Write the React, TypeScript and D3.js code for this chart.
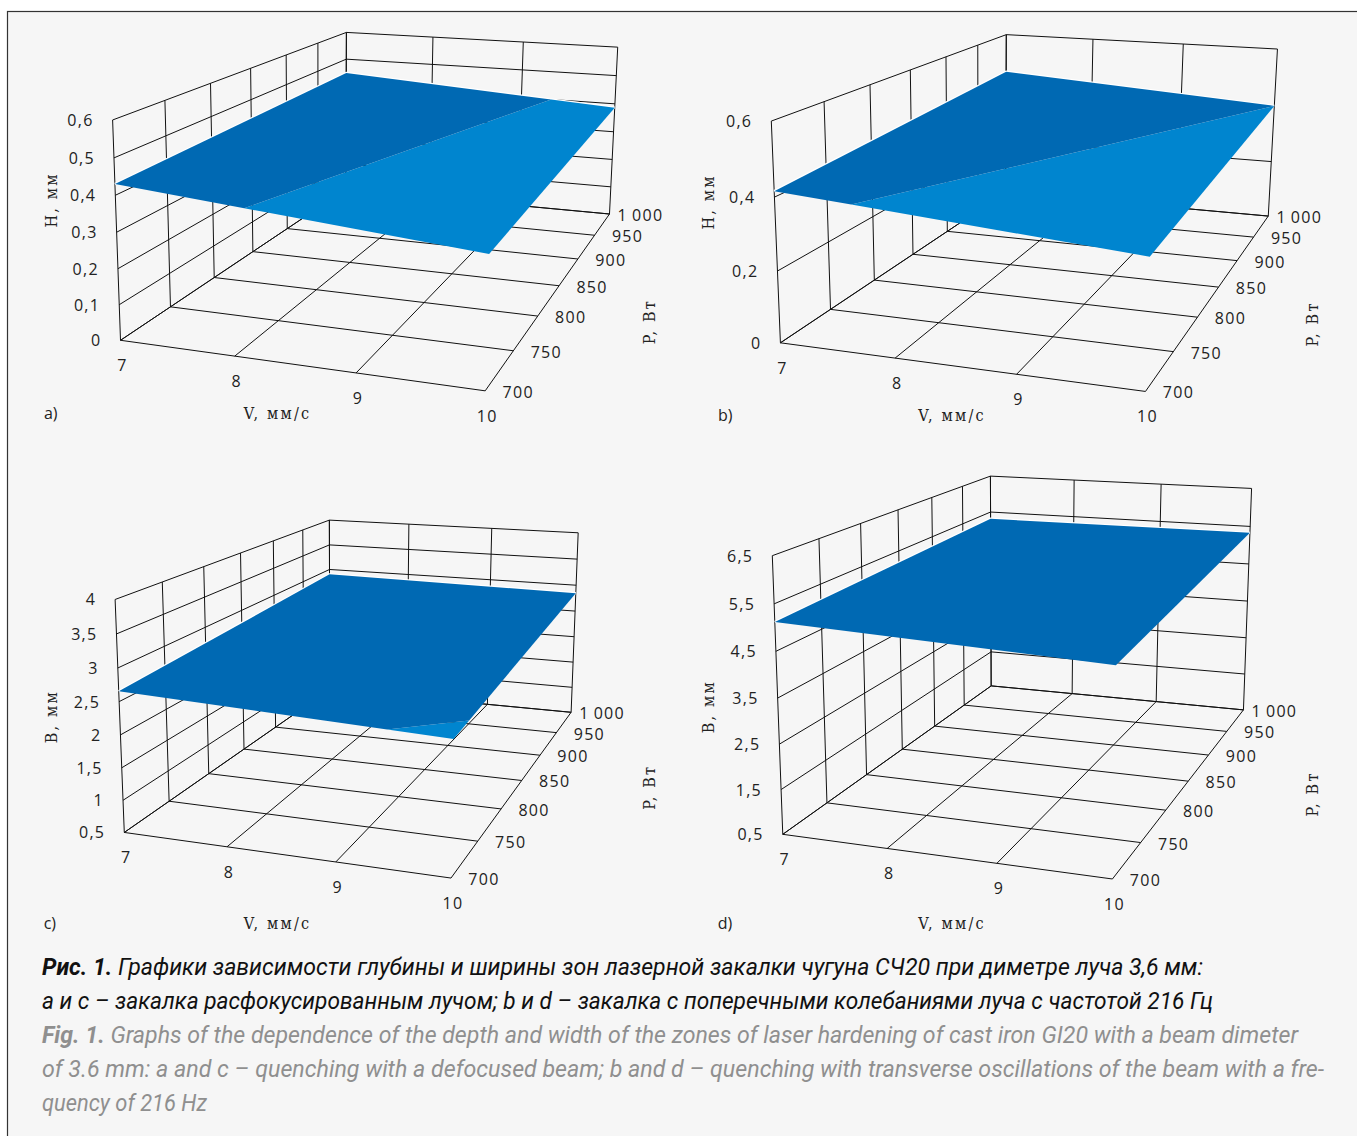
import React from 'react';
import * as d3 from 'd3';

const WIDTH = 1357;
const HEIGHT = 1136;

// values
const speedTicks = [7, 8, 9, 10];
const powerTicks = [700, 750, 800, 850, 900, 950, 1000];

const depthTicksA = [0, 0.1, 0.2, 0.3, 0.4, 0.5, 0.6];
const depthTicksB = [0, 0.2, 0.4, 0.6];
const widthTicksC = [0.5, 1, 1.5, 2, 2.5, 3, 3.5, 4];
const widthTicksD = [0.5, 1.5, 2.5, 3.5, 4.5, 5.5, 6.5];

// surface corners: [V=7, V=10] for P=700 and P=1000
const surfaceA = [[0.43, 0.348], [0.448, 0.386]];
const surfaceB = [[0.416, 0.343], [0.462, 0.4]];
const surfaceC = [[2.654, 2.465], [2.9, 2.846]];
const surfaceD = [[5.12, 4.84], [5.31, 5.33]];

const captionRu = [
  ['Рис. 1. ', 'Графики зависимости глубины и ширины зон лазерной закалки чугуна СЧ20 при диметре луча 3,6 мм:'],
  ['', 'a и c – закалка расфокусированным лучом; b и d – закалка с поперечными колебаниями луча с частотой 216 Гц'],
];
const captionEn = [
  ['Fig. 1. ', 'Graphs of the dependence of the depth and width of the zones of laser hardening of cast iron GI20 with a beam dimeter'],
  ['', 'of 3.6 mm: a and c – quenching with a defocused beam; b and d – quenching with transverse oscillations of the beam with a fre-'],
  ['', 'quency of 216 Hz'],
];

const DARK = '#0069b3';
const LIGHT = '#0085cf';
const LINE = '#111';
const TICK_FONT = '"Open Sans", sans-serif';
const TITLE_FONT = '"DejaVu Serif Condensed", "DejaVu Serif", serif';
const CAPTION_FONT = '"Roboto", sans-serif';

// where the corners of each 3D box land on the page
const panels = [
  {
    name: 'a)', zLabel: 'H, мм', zTicks: depthTicksA, surface: surfaceA, level: 0.4,
    corners: { O: [120.6, 341.7], A: [484.9, 390], B: [346, 188], F: [609.4, 215], C: [112.8, 119.3], H: [346, 33.3], T: [618, 46.7] },
    nameAt: [50.7, 413], vAt: [277.5, 413.3], zAt: [51.2, 200], pAt: [649, 321.7],
  },
  {
    name: 'b)', zLabel: 'H, мм', zTicks: depthTicksB, surface: surfaceB, level: 0.4,
    corners: { O: [780.2, 343.3], A: [1145.5, 391], B: [1006, 191.7], F: [1268.1, 216.7], C: [771.5, 121], H: [1006, 35], T: [1277.6, 48.7] },
    nameAt: [725.3, 415], vAt: [952, 415], zAt: [708, 202], pAt: [1312.6, 324],
  },
  {
    name: 'c)', zLabel: 'B, мм', zTicks: widthTicksC, surface: surfaceC, level: 2.5,
    corners: { O: [124.5, 833.3], A: [451, 877.3], B: [329.6, 688.3], F: [571.2, 713.3], C: [114.9, 599.3], H: [329.6, 520.7], T: [578.1, 532.3] },
    nameAt: [49.9, 923], vAt: [277.5, 923.3], zAt: [51.2, 716.7], pAt: [649.2, 787.3],
  },
  {
    name: 'd)', zLabel: 'B, мм', zTicks: widthTicksD, surface: surfaceD, level: 4.5,
    corners: { O: [782.8, 834], A: [1112.7, 879], B: [990.9, 686], F: [1243.5, 710], C: [772, 556], H: [990.9, 476], T: [1251.3, 488.3] },
    nameAt: [725, 923], vAt: [952, 923.3], zAt: [708, 706.7], pAt: [1312.6, 794],
  },
];

type Pt = [number, number];

const solve = (M: number[][], b: number[]) => {
  const n = b.length;
  const a = M.map((row, i) => [...row, b[i]]);
  for (let i = 0; i < n; i++) {
    let p = i;
    for (let r = i + 1; r < n; r++) if (Math.abs(a[r][i]) > Math.abs(a[p][i])) p = r;
    [a[i], a[p]] = [a[p], a[i]];
    for (let r = 0; r < n; r++) {
      if (r === i) continue;
      const f = a[r][i] / a[i][i];
      for (let c = i; c <= n; c++) a[r][c] -= f * a[i][c];
    }
  }
  return a.map((row, i) => row[n] / row[i]);
};

// least squares camera from the box corners
const fitCamera = (c: any) => {
  const pairs = [
    [0, 0, 0, c.O], [1, 0, 0, c.A], [0, 1, 0, c.B], [1, 1, 0, c.F],
    [0, 0, 1, c.C], [0, 1, 1, c.H], [1, 1, 1, c.T],
  ];
  const rows: number[][] = [];
  const rhs: number[] = [];
  pairs.forEach(([u, t, z, p]: any) => {
    rows.push([u, t, z, 1, 0, 0, 0, 0, -p[0] * u, -p[0] * t, -p[0] * z]);
    rhs.push(p[0]);
    rows.push([0, 0, 0, 0, u, t, z, 1, -p[1] * u, -p[1] * t, -p[1] * z]);
    rhs.push(p[1]);
  });
  const AtA = d3.range(11).map(i => d3.range(11).map(j => d3.sum(rows, r => r[i] * r[j])));
  const Atb = d3.range(11).map(i => d3.sum(rows, (r, k) => r[i] * rhs[k]));
  const h = solve(AtA, Atb);
  return (u: number, t: number, z: number): Pt => {
    const w = h[8] * u + h[9] * t + h[10] * z + 1;
    return [
      (h[0] * u + h[1] * t + h[2] * z + h[3]) / w,
      (h[4] * u + h[5] * t + h[6] * z + h[7]) / w,
    ];
  };
};

const pathOf = d3.line<Pt>().x(d => d[0]).y(d => d[1]);
const comma = (v: number) => String(v).replace('.', ',');

const Panel = ({ panel }: { panel: any }) => {
  const { zTicks, surface, level } = panel;
  const project = fitCamera(panel.corners);
  const u = d3.scaleLinear().domain([7, 10]).range([0, 1]);
  const t = d3.scaleLinear().domain([700, 1000]).range([0, 1]);
  const z = d3.scaleLinear().domain(d3.extent(zTicks) as [number, number]).range([0, 1]);
  const at = (v: number, p: number, h: number) => project(u(v), t(p), z(h));
  const zMin = zTicks[0];
  const zMax = zTicks[zTicks.length - 1];

  const grid: Pt[][] = [
    ...speedTicks.map(v => [at(v, 700, zMin), at(v, 1000, zMin)]),
    ...powerTicks.map(p => [at(7, p, zMin), at(10, p, zMin)]),
    ...speedTicks.map(v => [at(v, 1000, zMin), at(v, 1000, zMax)]),
    ...powerTicks.map(p => [at(7, p, zMin), at(7, p, zMax)]),
    ...zTicks.map((h: number) => [at(7, 700, h), at(7, 1000, h)]),
    ...zTicks.map((h: number) => [at(7, 1000, h), at(10, 1000, h)]),
  ];

  // surface outline, walked round, split along the band level
  const outline: [number, number, number][] = [
    [7, 700, surface[0][0]],
    [10, 700, surface[0][1]],
    [10, 1000, surface[1][1]],
    [7, 1000, surface[1][0]],
  ];
  const clip = (keep: (h: number) => boolean) => {
    const out: Pt[] = [];
    outline.forEach((a, i) => {
      const b = outline[(i + 1) % outline.length];
      if (keep(a[2])) out.push(at(a[0], a[1], a[2]));
      if (keep(a[2]) !== keep(b[2])) {
        const k = (level - a[2]) / (b[2] - a[2]);
        out.push(at(a[0] + (b[0] - a[0]) * k, a[1] + (b[1] - a[1]) * k, level));
      }
    });
    return out;
  };
  const upper = clip(h => h >= level);
  const lower = clip(h => h < level);
  // pale rim along the two far edges
  const rim: Pt[] = [outline[0], outline[3], outline[2]].map(c => at(c[0], c[1], c[2]));

  const tickStyle = { fontFamily: TICK_FONT, fontSize: 16, letterSpacing: 1.3, fill: '#222' };
  const titleStyle = { fontFamily: TITLE_FONT, fontSize: 16, letterSpacing: 2.2, fill: '#222' };

  return (
    <g>
      {grid.map((l, i) => (
        <path key={i} d={pathOf(l) as string} fill="none" stroke={LINE} strokeWidth={1} />
      ))}
      <path d={pathOf(rim) as string} fill="none" stroke="#fff" strokeWidth={2.4} />
      {lower.length > 2 && <path d={pathOf(lower) + 'Z'} fill={LIGHT} />}
      {upper.length > 2 && <path d={pathOf(upper) + 'Z'} fill={DARK} />}

      {zTicks.map((h: number) => {
        const [x, y] = at(7, 700, h);
        return (
          <text key={h} x={x - 19} y={y} textAnchor="end" dominantBaseline="central" style={tickStyle}>
            {comma(h)}
          </text>
        );
      })}
      {speedTicks.map(v => {
        const [x, y] = at(v, 700, zMin);
        return (
          <text key={v} x={x + 2} y={y + 25} textAnchor="middle" dominantBaseline="central" style={tickStyle}>
            {v}
          </text>
        );
      })}
      {powerTicks.map(p => {
        const [x, y] = at(10, p, zMin);
        return (
          <text key={p} x={x + (p === 1000 ? 31 : 33)} y={y + 1} textAnchor="middle" dominantBaseline="central" style={tickStyle}>
            {p === 1000 ? '1\u2009000' : p}
          </text>
        );
      })}

      <text x={panel.nameAt[0]} y={panel.nameAt[1]} textAnchor="middle" dominantBaseline="central" style={{ ...tickStyle, letterSpacing: 0 }}>
        {panel.name}
      </text>
      <text x={panel.vAt[0]} y={panel.vAt[1]} textAnchor="middle" dominantBaseline="central" style={titleStyle}>
        V, мм/с
      </text>
      <text transform={`translate(${panel.zAt[0]},${panel.zAt[1]}) rotate(-90)`} textAnchor="middle" dominantBaseline="central" style={titleStyle}>
        {panel.zLabel}
      </text>
      <text transform={`translate(${panel.pAt[0]},${panel.pAt[1]}) rotate(-90)`} textAnchor="middle" dominantBaseline="central" style={titleStyle}>
        P, Вт
      </text>
    </g>
  );
};

const Caption = () => {
  const lines = [
    { parts: captionRu[0], y: 975, end: 1203, fill: '#111' },
    { parts: captionRu[1], y: 1009, end: 1213, fill: '#111' },
    { parts: captionEn[0], y: 1043, end: 1298, fill: '#8f8f8f' },
    { parts: captionEn[1], y: 1077, end: 1324, fill: '#8f8f8f' },
    { parts: captionEn[2], y: 1111, end: 207, fill: '#8f8f8f' },
  ];
  return (
    <g style={{ fontFamily: CAPTION_FONT, fontSize: 23, fontStyle: 'italic' }}>
      {lines.map((l, i) => (
        <text key={i} x={42} y={l.y} fill={l.fill} textLength={l.end - 42} lengthAdjust="spacingAndGlyphs">
          {l.parts[0] && <tspan fontWeight="bold">{l.parts[0]}</tspan>}
          <tspan>{l.parts[1]}</tspan>
        </text>
      ))}
    </g>
  );
};

export default function App() {
  return (
    <svg
      width={WIDTH}
      height={HEIGHT}
      style={{ position: 'absolute', left: 0, top: 0, display: 'block', background: '#fff' }}
    >
      <rect x={7.5} y={11.5} width={WIDTH} height={HEIGHT} fill="#f6f6f6" stroke="#333" strokeWidth={1.2} />
      {panels.map(p => (
        <Panel key={p.name} panel={p} />
      ))}
      <Caption />
    </svg>
  );
}
